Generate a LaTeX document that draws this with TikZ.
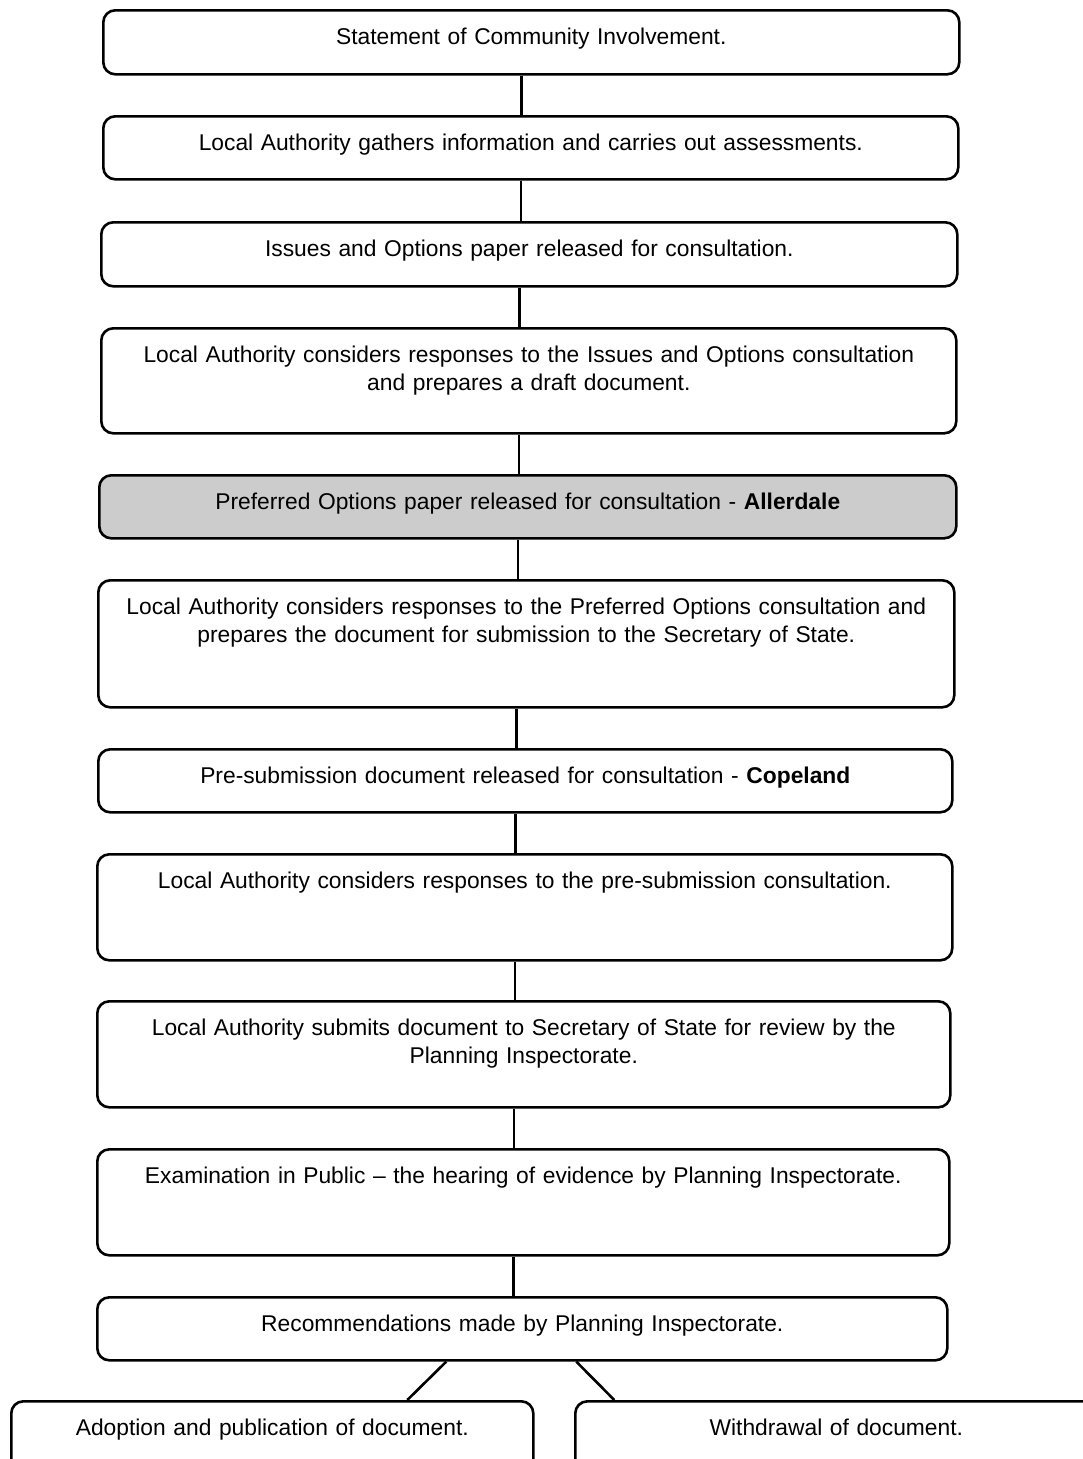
\documentclass[tikz,border=0pt]{standalone}
\usepackage{fontspec}
\setmainfont{Liberation Sans}

\begin{document}
\begin{tikzpicture}[x=1pt, y=-1pt,
        stage/.style={rectangle, draw, rounded corners=12pt, line width=2.6pt, anchor=north west, inner xsep=0pt, inner ysep=0pt, align=center, text height=34pt, font=\fontsize{22.8}{28}\selectfont},
        link/.style={line width=2.6pt}]
        \useasboundingbox (0,0) rectangle (1082,1459);

        \node at (102,9) [stage, text width=856pt, text depth=30pt] (sci) {Statement of Community Involvement.};
        \node at (102,115) [stage, text width=855pt, text depth=29pt] (gather) {Local Authority gathers information and carries out assessments.};
        \node at (100,221) [stage, text width=856pt, text depth=30pt] (issues) {Issues and Options paper released for consultation.};
        \node at (100,327) [stage, text width=855pt, text depth=71pt] (issuesresp) {Local Authority considers responses to the Issues and Options consultation\\and prepares a draft document.};
        \node at (98,474) [stage, fill=black!20, text width=857pt, text depth=29pt] (preferred) {Preferred Options paper released for consultation - \textbf{Allerdale}};
        \node at (97,579) [stage, text width=856pt, text depth=93pt] (preferredresp) {Local Authority considers responses to the Preferred Options consultation and\\prepares the document for submission to the Secretary of State.};
        \node at (97,748) [stage, text width=854pt, text depth=29pt] (presub) {Pre-submission document released for consultation - \textbf{Copeland}};
        \node at (96,853) [stage, text width=855pt, text depth=72pt] (presubresp) {Local Authority considers responses to the pre-submission consultation.};
        \node at (96,1000) [stage, text width=853pt, text depth=72pt] (submit) {Local Authority submits document to Secretary of State for review by the\\Planning Inspectorate.};
        \node at (96,1148) [stage, text width=852pt, text depth=72pt] (exam) {Examination in Public -- the hearing of evidence by Planning Inspectorate.};
        \node at (96,1296) [stage, text width=850pt, text depth=29pt] (recommend) {Recommendations made by Planning Inspectorate.};

        \node at (10,1400) [stage, text width=522pt, text depth=66pt] (adopt) {Adoption and publication of document.};
        \node at (574,1400) [stage, text width=522pt, text depth=66pt] (withdraw) {Withdrawal of document.};

        \draw[link]
                ([xshift=-10pt]sci.south)           edge ([xshift=-10pt]sci.south |- gather.north)
                ([xshift=-10pt]gather.south)        edge ([xshift=-10pt]gather.south |- issues.north)
                ([xshift=-10pt]issues.south)        edge ([xshift=-10pt]issues.south |- issuesresp.north)
                ([xshift=-10pt]issuesresp.south)    edge ([xshift=-10pt]issuesresp.south |- preferred.north)
                ([xshift=-10pt]preferred.south)     edge ([xshift=-10pt]preferred.south |- preferredresp.north)
                ([xshift=-10pt]preferredresp.south) edge ([xshift=-10pt]preferredresp.south |- presub.north)
                ([xshift=-10pt]presub.south)        edge ([xshift=-10pt]presub.south |- presubresp.north)
                ([xshift=-10pt]presubresp.south)    edge ([xshift=-10pt]presubresp.south |- submit.north)
                ([xshift=-10pt]submit.south)        edge ([xshift=-10pt]submit.south |- exam.north)
                ([xshift=-10pt]exam.south)          edge ([xshift=-10pt]exam.south |- recommend.north)

                ([xshift=-76pt]recommend.south)     edge ([xshift=135pt]adopt.north)
                ([xshift=54pt]recommend.south)      edge ([xshift=-222pt]withdraw.north)
            ;
\end{tikzpicture}
\end{document}
